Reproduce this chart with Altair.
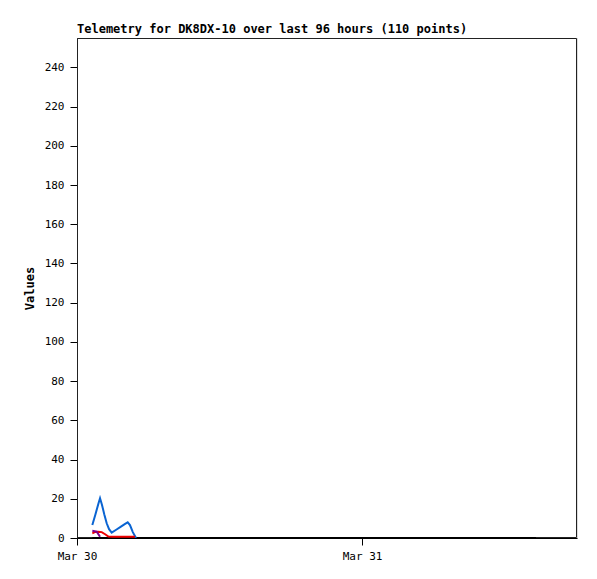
import altair as alt
import pandas as pd

# hours since Mar 30 00:00
blue_hours = [1.29, 1.55, 1.80, 1.94, 2.10, 2.30, 2.50, 2.70, 2.92, 3.30, 3.70, 4.05, 4.27, 4.46, 4.70, 4.97]
blue_vals  = [6.6, 12.0, 17.5, 20.3, 17.0, 12.0, 7.5, 4.5, 2.7, 4.2, 5.8, 7.2, 8.0, 6.6, 3.0, 0.0]

red_hours = [1.29, 1.55, 1.80, 2.08, 2.40, 2.64, 3.00, 4.00, 4.88]
red_vals  = [2.4, 3.1, 3.2, 3.0, 1.8, 0.7, 0.6, 0.6, 0.6]

purple_hours = [1.29, 1.66, 1.94]
purple_vals  = [3.7, 3.2, 0.6]

black_hours = [1.29, 38.65]
black_vals  = [0.0, 0.0]

tick_hours = [0, 24]
tick_labels = ["Mar 30", "Mar 31"]
y_ticks = list(range(0, 260, 20))

series_names = ["zero", "ch1", "ch2", "ch3"]
series_colors = ["#000000", "#0a64d2", "#ee0000", "#80008a"]

rows = []
for name, hs, vs in [("zero", black_hours, black_vals), ("ch1", blue_hours, blue_vals),
                     ("ch2", red_hours, red_vals), ("ch3", purple_hours, purple_vals)]:
    for h, v in zip(hs, vs):
        rows.append({"series": name, "hour": h, "value": v})
df = pd.DataFrame(rows)

label_expr = " : ".join(
    [f"datum.value == {h} ? '{l}'" for h, l in zip(tick_hours, tick_labels)] + ["''"]
)

FONT = "DejaVu Sans Mono"

x = alt.X("hour:Q", scale=alt.Scale(domain=[0, 42.1], nice=False, zero=False),
          axis=alt.Axis(values=tick_hours, labelExpr=label_expr, title=None, grid=False,
                        tickSize=7, labelPadding=5, labelFont=FONT, labelFontSize=11,
                        labelColor="black", tickColor="black", domainColor="black",
                        labelFlush=False))
y = alt.Y("value:Q", scale=alt.Scale(domain=[0, 255], nice=False),
          axis=alt.Axis(values=y_ticks, title="Values", grid=False, tickSize=7,
                        labelPadding=6, labelFont=FONT, labelFontSize=11,
                        labelColor="black", tickColor="black", domainColor="black",
                        titleFont=FONT, titleFontSize=12, titleFontWeight="bold",
                        titleColor="black", titlePadding=8, labelFlush=False))
color = alt.Color("series:N", scale=alt.Scale(domain=series_names, range=series_colors), legend=None)

frame = alt.Chart(pd.DataFrame({"k": [0]})).mark_rect(
    fill=None, stroke="#222222", strokeWidth=1
).encode(x=alt.value(0.5), x2=alt.value(499.5), y=alt.value(0.5), y2=alt.value(499.5))

layers = [frame]
for name in series_names:
    layers.append(
        alt.Chart(df).transform_filter(alt.datum.series == name)
        .mark_line(strokeWidth=2, clip=True)
        .encode(x=x, y=y, color=color)
    )

chart = alt.layer(*layers).properties(
    width=500, height=500,
    title=alt.TitleParams("Telemetry for DK8DX-10 over last 96 hours (110 points)",
                          anchor="start", frame="group", font=FONT, fontSize=12,
                          fontWeight="bold", color="black", offset=2),
    autosize=alt.AutoSizeParams(type="none"),
    padding={"left": 69, "top": 30, "right": 8, "bottom": 25},
).configure_view(stroke=None).configure(background="white")

chart.save("out.html", embed_options={"renderer": "svg", "actions": False})
